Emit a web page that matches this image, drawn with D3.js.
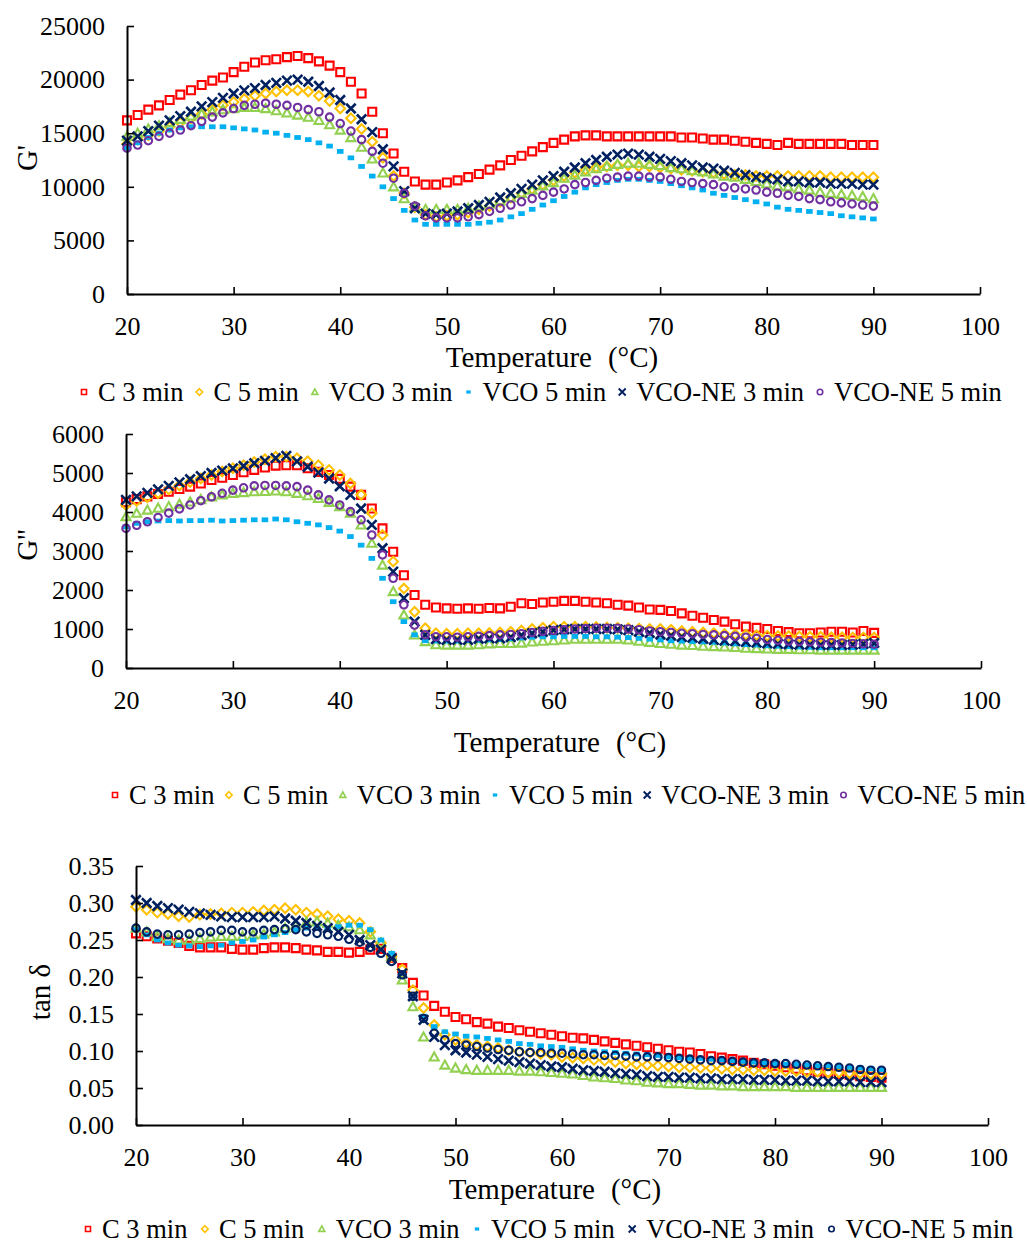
<!DOCTYPE html>
<html>
<head>
<meta charset="utf-8">
<script src="https://cdn.jsdelivr.net/npm/d3@7"></script>
<style>
  body { margin: 0; background: #fff; }
  svg { display: block; }
  text { font-family: "Liberation Serif", "Times New Roman", serif; fill: #000; }
</style>
</head>
<body>
<div id="chart"></div>
<script>
// measurement temperatures (°C)
const temps = [20,21,22,23,24,25,26,27,28,29,30,31,32,33,34,35,36,37,38,39,
  40,41,42,43,44,45,46,47,48,49,50,51,52,53,54,55,56,57,58,59,
  60,61,62,63,64,65,66,67,68,69,70,71,72,73,74,75,76,77,78,79,
  80,81,82,83,84,85,86,87,88,89,90];

const seriesNames = ["C 3 min", "C 5 min", "VCO 3 min", "VCO 5 min", "VCO-NE 3 min", "VCO-NE 5 min"];
const xTicks = [20, 30, 40, 50, 60, 70, 80, 90, 100];
const gpTicks = [0, 5000, 10000, 15000, 20000, 25000];
const gppTicks = [0, 1000, 2000, 3000, 4000, 5000, 6000];
const tanTicks = [0, 0.05, 0.10, 0.15, 0.20, 0.25, 0.30, 0.35];

// G'
const gpC3 = [16200,16700,17200,17600,18100,18600,19000,19500,19900,20200,
  20700,21200,21600,21800,21900,22100,22200,22000,21700,21300,
  20700,19800,18700,17000,15000,13100,11400,10500,10200,10200,
  10400,10600,10900,11200,11600,12000,12500,12900,13300,13700,
  14100,14400,14700,14800,14800,14700,14700,14700,14700,14700,
  14700,14700,14600,14600,14500,14400,14400,14300,14200,14100,
  14000,13900,14100,14000,14000,14000,14000,14000,13900,13900,13900];
const gpC5 = [14000,14400,14800,15200,15600,16000,16400,16800,17200,17600,
  17900,18200,18500,18700,18900,19000,19000,18900,18500,18000,
  17300,16400,15400,14200,12700,11000,9400,8100,7400,7200,
  7300,7400,7600,7900,8200,8600,9000,9400,9800,10200,
  10600,11000,11300,11600,11800,11900,12000,12000,11900,11900,
  11800,11700,11600,11500,11400,11300,11200,11100,11100,11000,
  11000,11000,11000,11000,11000,11000,10900,10900,10900,10900,10900];
const gpVCO3 = [14700,15000,15400,15700,16000,16300,16600,16800,17000,17200,
  17300,17400,17400,17300,17100,16900,16700,16500,16200,15800,
  15300,14600,13700,12600,11300,10000,8900,8100,7900,7900,
  7900,7900,8000,8200,8400,8700,9000,9400,9700,10100,
  10400,10800,11100,11400,11700,11900,12100,12200,12200,12100,
  12000,11800,11700,11500,11400,11200,11000,10900,10700,10500,
  10300,10100,10000,9800,9700,9500,9400,9300,9200,9100,8900];
const gpVCO5 = [13600,14100,14600,15000,15300,15500,15600,15600,15600,15600,
  15500,15400,15300,15100,15000,14800,14600,14400,14100,13800,
  13300,12700,11900,11000,10000,8900,7800,6900,6500,6500,
  6500,6500,6500,6600,6700,6900,7200,7500,7900,8300,
  8700,9100,9500,9900,10200,10400,10600,10700,10700,10600,
  10500,10300,10100,9900,9700,9400,9200,9000,8800,8600,
  8400,8100,7900,7800,7700,7600,7500,7300,7200,7100,7000];
const gpNE3 = [14300,14700,15200,15700,16200,16600,17000,17500,17900,18300,
  18700,19000,19200,19500,19700,19900,20000,19800,19400,18800,
  18100,17300,16300,15100,13500,11900,9600,8000,7500,7400,
  7500,7700,8000,8300,8600,9000,9400,9800,10200,10600,
  11000,11400,11800,12200,12500,12800,13000,13100,13000,12800,
  12600,12400,12200,12000,11800,11700,11500,11300,11100,10900,
  10800,10700,10500,10500,10400,10400,10300,10300,10300,10200,10200];
const gpNE5 = [13600,13900,14300,14700,15000,15300,15700,16100,16500,16900,
  17300,17600,17700,17800,17700,17600,17400,17200,17000,16500,
  15900,15200,14400,13300,12200,10800,9400,8200,7300,7100,
  7100,7100,7200,7400,7700,8000,8300,8600,8900,9200,
  9500,9800,10200,10400,10600,10800,10900,11000,11000,10900,
  10900,10700,10500,10400,10300,10200,10000,9900,9800,9700,
  9500,9400,9200,9100,8900,8800,8600,8500,8400,8300,8200];

// G''
const gppC3 = [4250,4330,4400,4460,4520,4590,4650,4730,4820,4880,
  4950,5020,5080,5140,5190,5200,5200,5120,5030,4950,
  4850,4650,4440,4090,3580,2980,2380,1870,1620,1550,
  1530,1520,1530,1520,1540,1530,1570,1660,1640,1680,
  1700,1720,1720,1700,1680,1660,1620,1600,1550,1500,
  1490,1460,1400,1340,1290,1230,1190,1120,1060,1030,
  1000,950,920,890,890,910,930,930,910,950,900];
const gppC5 = [4180,4280,4380,4480,4580,4680,4770,4860,4950,5040,
  5120,5200,5280,5350,5420,5420,5380,5300,5200,5080,
  4950,4730,4440,3970,3410,2730,2040,1440,1020,890,
  880,880,890,890,900,910,930,960,1000,1030,
  1060,1060,1060,1060,1050,1040,1030,1020,1010,1000,
  1000,980,950,930,910,890,870,860,850,840,
  830,820,820,810,800,800,790,790,780,780,780];
const gppVCO3 = [3880,3970,4050,4100,4140,4200,4260,4320,4390,4440,
  4480,4500,4520,4530,4540,4520,4480,4420,4350,4250,
  4140,3970,3670,3200,2640,1960,1360,850,680,600,
  590,590,590,600,620,630,630,640,670,690,
  700,720,740,740,740,740,740,720,690,660,
  630,610,590,580,560,550,540,530,510,500,
  490,480,480,470,470,460,460,460,460,460,460];
const gppVCO5 = [3620,3710,3750,3770,3780,3770,3780,3780,3790,3770,
  3780,3790,3800,3800,3820,3800,3750,3710,3670,3600,
  3510,3370,3150,2810,2300,1700,1190,850,700,690,
  690,690,700,710,720,730,750,770,790,800,
  800,810,810,810,800,800,790,780,760,740,
  720,700,690,680,670,660,640,620,600,590,
  570,560,550,540,530,520,520,520,520,520,520];
const gppNE3 = [4310,4400,4490,4580,4670,4760,4840,4920,5000,5060,
  5120,5180,5250,5310,5380,5440,5300,5160,5010,4860,
  4660,4440,4090,3670,3070,2470,1790,1190,850,740,
  720,720,720,750,760,760,790,840,890,930,
  970,990,1000,1000,1000,1000,990,970,930,900,
  860,830,800,780,750,720,700,690,670,650,
  630,620,610,600,600,590,590,590,600,620,640];
const gppNE5 = [3580,3660,3750,3860,3970,4080,4180,4290,4390,4480,
  4560,4620,4670,4680,4680,4670,4650,4560,4440,4310,
  4180,4010,3800,3410,2900,2300,1620,1100,850,800,
  800,790,800,810,830,850,860,880,910,940,
  960,980,1000,1010,1020,1020,1020,1000,980,950,
  930,910,890,880,860,850,830,810,790,760,
  730,710,690,680,670,660,650,640,630,620,610];

// tan δ
const tanC3 = [0.259,0.255,0.252,0.249,0.246,0.242,0.240,0.240,0.240,0.238,
  0.237,0.237,0.239,0.240,0.240,0.239,0.237,0.236,0.234,0.234,
  0.233,0.234,0.237,0.238,0.226,0.212,0.192,0.175,0.161,0.153,
  0.146,0.143,0.139,0.137,0.133,0.131,0.128,0.126,0.124,0.122,
  0.120,0.118,0.117,0.115,0.113,0.111,0.109,0.107,0.105,0.103,
  0.101,0.099,0.098,0.096,0.093,0.091,0.089,0.087,0.084,0.082,
  0.080,0.078,0.076,0.074,0.072,0.071,0.069,0.068,0.066,0.065,0.064];
const tanC5 = [0.295,0.291,0.287,0.285,0.282,0.281,0.284,0.285,0.286,0.287,
  0.287,0.288,0.290,0.291,0.293,0.291,0.287,0.285,0.282,0.278,
  0.276,0.273,0.261,0.246,0.228,0.210,0.182,0.158,0.135,0.122,
  0.115,0.111,0.108,0.106,0.104,0.101,0.099,0.098,0.096,0.095,
  0.092,0.091,0.090,0.088,0.087,0.085,0.083,0.082,0.081,0.080,
  0.079,0.078,0.078,0.077,0.077,0.076,0.075,0.075,0.074,0.074,
  0.073,0.073,0.073,0.072,0.072,0.071,0.071,0.070,0.070,0.069,0.069];
const tanVCO3 = [0.266,0.261,0.255,0.252,0.250,0.250,0.252,0.254,0.255,0.255,
  0.255,0.257,0.258,0.261,0.266,0.270,0.274,0.275,0.273,0.270,
  0.268,0.264,0.257,0.246,0.228,0.196,0.160,0.119,0.092,0.081,
  0.077,0.075,0.074,0.074,0.074,0.074,0.073,0.073,0.072,0.071,
  0.070,0.069,0.067,0.065,0.064,0.063,0.061,0.060,0.058,0.057,
  0.056,0.056,0.055,0.054,0.054,0.053,0.053,0.052,0.052,0.052,
  0.052,0.052,0.051,0.051,0.051,0.051,0.051,0.051,0.051,0.051,0.051];
const tanVCO5 = [0.264,0.257,0.250,0.246,0.243,0.242,0.241,0.242,0.243,0.246,
  0.248,0.250,0.254,0.257,0.260,0.264,0.266,0.266,0.266,0.268,
  0.270,0.270,0.264,0.250,0.232,0.205,0.174,0.147,0.133,0.126,
  0.123,0.120,0.119,0.117,0.115,0.113,0.110,0.109,0.107,0.106,
  0.105,0.103,0.101,0.100,0.099,0.098,0.097,0.096,0.095,0.094,
  0.092,0.091,0.090,0.090,0.089,0.088,0.087,0.086,0.085,0.084,
  0.083,0.082,0.082,0.081,0.080,0.080,0.079,0.078,0.077,0.076,0.075];
const tanNE3 = [0.304,0.300,0.296,0.293,0.291,0.288,0.286,0.284,0.282,0.281,
  0.281,0.281,0.281,0.282,0.279,0.276,0.273,0.269,0.266,0.261,
  0.257,0.250,0.243,0.237,0.225,0.205,0.174,0.142,0.119,0.108,
  0.101,0.098,0.095,0.092,0.089,0.087,0.085,0.083,0.081,0.079,
  0.078,0.076,0.074,0.073,0.072,0.070,0.069,0.068,0.066,0.065,
  0.065,0.064,0.064,0.063,0.063,0.062,0.062,0.062,0.061,0.061,
  0.061,0.060,0.060,0.060,0.059,0.059,0.059,0.059,0.058,0.058,0.058];
const tanNE5 = [0.266,0.261,0.258,0.257,0.257,0.258,0.260,0.261,0.263,0.263,
  0.261,0.261,0.263,0.264,0.265,0.264,0.261,0.259,0.257,0.255,
  0.251,0.247,0.240,0.232,0.221,0.203,0.174,0.144,0.124,0.115,
  0.110,0.108,0.106,0.104,0.102,0.101,0.099,0.098,0.098,0.097,
  0.097,0.096,0.095,0.095,0.094,0.094,0.093,0.092,0.092,0.092,
  0.091,0.090,0.089,0.088,0.087,0.087,0.086,0.085,0.084,0.084,
  0.083,0.083,0.082,0.081,0.080,0.079,0.078,0.077,0.075,0.074,0.074];

const colorsTop = ["#FF0000", "#FFC000", "#92D050", "#00B0F0", "#002060", "#7030A0"];
const colorsTan = ["#FF0000", "#FFC000", "#92D050", "#00B0F0", "#002060", "#002060"];
const shapes = ["square", "diamond", "triangle", "dash", "x", "circle"];

const width = 1027;
const height = 1244;
const serif = '"Liberation Serif", "Times New Roman", serif';

const svg = d3.select('#chart')
  .append('svg')
  .attr('width', width)
  .attr('height', height);

// marker outlines, centred on 0,0
function markerPath(shape, s) {
  const h = s / 2;
  switch (shape) {
    case "square": return `M${-h},${-h}H${h}V${h}H${-h}Z`;
    case "diamond": return `M0,${-h}L${h},0L0,${h}L${-h},0Z`;
    case "triangle": return `M0,${-h}L${h},${h * 0.8}L${-h},${h * 0.8}Z`;
    case "dash": return `M${-h * 1.1},${-h * 0.8}H${h * 1.1}V${h * 0.8}H${-h * 1.1}Z`;
    case "x": return `M${-h},${-h}L${h},${h}M${-h},${h}L${h},${-h}`;
    case "circle": return `M${h},0A${h},${h} 0 1,1 ${-h},0A${h},${h} 0 1,1 ${h},0Z`;
  }
}

function styleMarker(sel, shape, color, big) {
  if (shape === "dash") {
    sel.attr('fill', color).attr('stroke', 'none');
  } else {
    sel.attr('fill', 'none').attr('stroke', color)
      .attr('stroke-width', shape === "x" ? (big ? 2.6 : 1.9) : (big ? 2.1 : 1.6));
  }
}

const plotSize = { square: 8, diamond: 9.5, triangle: 9, dash: 6, x: 9.5, circle: 7.5 };
const legendSize = { square: 5, diamond: 6.5, triangle: 6, dash: 4, x: 7, circle: 5.5 };

const panels = [
  { series: [gpC3, gpC5, gpVCO3, gpVCO5, gpNE3, gpNE5], colors: colorsTop,
    x0: 127, x1: 980, yb: 294, yt: 26, ymax: 25000, ticks: gpTicks, fmt: d => d,
    yLabel: "G'", yLabelX: 27, yLabelY: 158, titleX: 552, titleY: 357,
    legX: 84, legY: 392, legGap: 16 },
  { series: [gppC3, gppC5, gppVCO3, gppVCO5, gppNE3, gppNE5], colors: colorsTop,
    x0: 126, x1: 981, yb: 668, yt: 434, ymax: 6000, ticks: gppTicks, fmt: d => d,
    yLabel: "G''", yLabelX: 27, yLabelY: 545, titleX: 560, titleY: 742,
    legX: 115, legY: 795, legGap: 14.5 },
  { series: [tanC3, tanC5, tanVCO3, tanVCO5, tanNE3, tanNE5], colors: colorsTan,
    x0: 136, x1: 988, yb: 1125, yt: 866, ymax: 0.35, ticks: tanTicks, fmt: d3.format(".2f"),
    yLabel: "tan δ", yLabelX: 40, yLabelY: 992, titleX: 555, titleY: 1189,
    legX: 88, legY: 1229, legGap: 17.5 }
];

panels.forEach(p => {
  const x = d3.scaleLinear().domain([20, 100]).range([p.x0, p.x1]);
  const y = d3.scaleLinear().domain([0, p.ymax]).range([p.yb, p.yt]);
  const g = svg.append('g');

  // 数据点
  p.series.forEach((vals, i) => {
    const marks = g.append('g').selectAll('path')
      .data(temps.map((t, j) => ({ t, v: vals[j] })))
      .join('path')
      .attr('d', markerPath(shapes[i], plotSize[shapes[i]]))
      .attr('transform', d => `translate(${x(d.t)},${y(d.v)})`);
    styleMarker(marks, shapes[i], p.colors[i], true);
  });

  // x轴
  const xAxis = g.append('g')
    .attr('transform', `translate(0,${p.yb})`)
    .call(d3.axisBottom(x).tickValues(xTicks).tickSizeInner(-7).tickSizeOuter(0).tickPadding(23));
  // y轴
  const yAxis = g.append('g')
    .attr('transform', `translate(${p.x0},0)`)
    .call(d3.axisLeft(y).tickValues(p.ticks).tickFormat(p.fmt).tickSizeInner(-7).tickSizeOuter(0).tickPadding(22));

  [xAxis, yAxis].forEach(a => {
    a.attr('font-family', serif).attr('font-size', 26);
    a.select('.domain').attr('stroke', '#000').attr('stroke-width', 2);
    a.selectAll('.tick line').attr('stroke', '#000').attr('stroke-width', 1.6);
    a.selectAll('.tick text')
      .style('font-family', serif)
      .style('font-size', '26px')
      .attr('fill', '#000');
  });

  // 轴标题
  const title = g.append('text')
    .attr('x', p.titleX)
    .attr('y', p.titleY)
    .attr('dy', '0.35em')
    .attr('text-anchor', 'middle')
    .style('font-family', serif)
    .style('font-size', '29px');
  title.append('tspan').text('Temperature');
  title.append('tspan').attr('dx', 16).text('(°C)');

  g.append('text')
    .attr('transform', `translate(${p.yLabelX},${p.yLabelY}) rotate(-90)`)
    .attr('dy', '0.35em')
    .attr('text-anchor', 'middle')
    .style('font-family', serif)
    .style('font-size', '29px')
    .text(p.yLabel);

  // 图例
  let cx = p.legX;
  seriesNames.forEach((name, i) => {
    const m = g.append('path')
      .attr('d', markerPath(shapes[i], legendSize[shapes[i]]))
      .attr('transform', `translate(${cx},${p.legY})`);
    styleMarker(m, shapes[i], p.colors[i], false);
    const t = g.append('text')
      .attr('x', cx + 14)
      .attr('y', p.legY)
      .attr('dy', '0.33em')
      .style('font-family', serif)
      .style('font-size', '26.5px')
      .text(name);
    cx = cx + 14 + t.node().getComputedTextLength() + p.legGap;
  });
});
</script>
</body>
</html>
